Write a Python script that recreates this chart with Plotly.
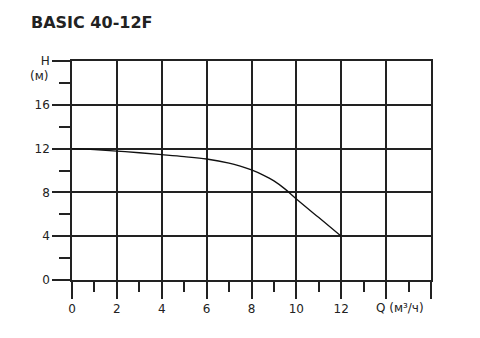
import plotly.graph_objects as go

# Data
q_values = [0, 1, 2, 3, 4, 5, 6, 7, 7.5, 8, 8.5, 9, 9.5, 10, 11, 12]
h_values = [12.0, 11.9, 11.77, 11.62, 11.45, 11.27, 11.05, 10.68, 10.4, 10.05, 9.6, 9.05, 8.3, 7.4, 5.7, 4.0]

x_ticks = [0, 2, 4, 6, 8, 10, 12, 14, 16]
x_ticklabels = ["0", "2", "4", "6", "8", "10", "12", "", ""]
y_ticks = [0, 4, 8, 12, 16, 20]
y_ticklabels = ["0", "4", "8", "12", "16", "H"]

title_text = "BASIC 40-12F"
y_unit = "(м)"
x_label = "Q (м³/ч)"

font_family = "DejaVu Sans"
line_col = "#222222"

fig = go.Figure()
fig.add_trace(go.Scatter(
    x=q_values, y=h_values, mode="lines",
    line=dict(color="#111111", width=1.3, shape="spline", smoothing=1.0),
    showlegend=False, hoverinfo="skip",
))

fig.update_layout(
    width=480, height=338,
    margin=dict(l=72, r=49, t=61, b=58),
    paper_bgcolor="white", plot_bgcolor="white",
    font=dict(family=font_family, size=12, color="#222222"),
    xaxis=dict(
        range=[0, 16], tickmode="array", tickvals=x_ticks, ticktext=x_ticklabels,
        showgrid=True, gridcolor=line_col, gridwidth=1.5,
        showline=True, linecolor=line_col, linewidth=1.5, mirror=True,
        ticks="outside", ticklen=17, tickwidth=1.5, tickcolor=line_col,
        minor=dict(tickvals=[1, 3, 5, 7, 9, 11, 13, 15], ticks="outside", ticklen=10,
                   tickwidth=1.5, tickcolor=line_col, showgrid=False),
        zeroline=False, fixedrange=True,
    ),
    yaxis=dict(
        range=[0, 20], tickmode="array", tickvals=y_ticks, ticktext=y_ticklabels,
        showgrid=True, gridcolor=line_col, gridwidth=1.5,
        showline=True, linecolor=line_col, linewidth=1.5, mirror=True,
        ticks="outside", ticklen=18, tickwidth=1.5, tickcolor=line_col,
        minor=dict(tickvals=[2, 6, 10, 14, 18], ticks="outside", ticklen=11,
                   tickwidth=1.5, tickcolor=line_col, showgrid=False),
        zeroline=False, fixedrange=True,
    ),
    annotations=[
        dict(text="<b>" + title_text + "</b>", xref="paper", yref="paper",
             x=-43 / 359, y=1 + 38 / 219, xanchor="left", yanchor="middle",
             showarrow=False, font=dict(family=font_family, size=16, color="#222222")),
        dict(text=y_unit, xref="paper", yref="y", x=-22 / 359, y=18.6,
             xanchor="right", yanchor="middle", showarrow=False,
             font=dict(family=font_family, size=12, color="#222222")),
        dict(text=x_label, xref="x", yref="paper", x=14.6, y=-28 / 219,
             xanchor="center", yanchor="middle", showarrow=False,
             font=dict(family=font_family, size=12, color="#222222")),
    ],
)

fig.write_html("out.html")
